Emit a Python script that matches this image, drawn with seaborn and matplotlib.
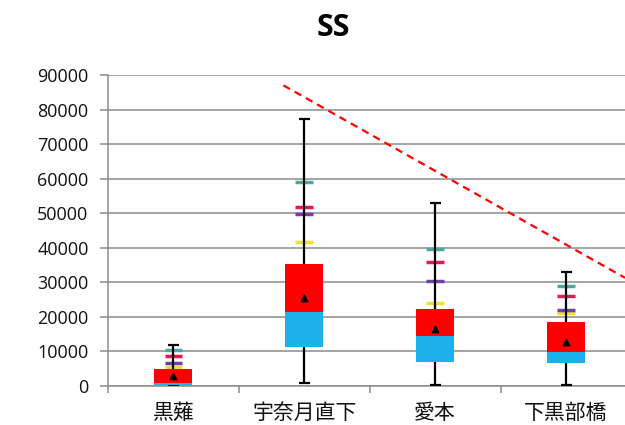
import numpy as np
import pandas as pd
import matplotlib
matplotlib.use("Agg")
import matplotlib.pyplot as plt
import seaborn as sns

# ---- data ----
categories = ["黒薙", "宇奈月直下", "愛本", "下黒部橋"]
min_vals = [0, 800, 400, 300]
q1_vals = [200, 11200, 6900, 6600]
median_vals = [800, 21300, 14600, 9900]
q3_vals = [5000, 35300, 22300, 18600]
max_vals = [11800, 77200, 52900, 33000]
mean_vals = [2800, 25600, 16500, 12800]
yellow_vals = [5600, 41800, 23900, 21000]
purple_vals = [6600, 49800, 30500, 21900]
crimson_vals = [8700, 51800, 35800, 26000]
teal_vals = [10400, 58900, 39700, 28900]
trend_x = [0.84, 3.45]
trend_y = [87000, 31300]
y_ticks = [0, 10000, 20000, 30000, 40000, 50000, 60000, 70000, 80000, 90000]

sns.set_theme(style="white")
plt.rcParams["font.family"] = ["Open Sans", "Noto Sans CJK JP", "DejaVu Sans"]

fig = plt.figure(figsize=(6.25, 4.25), dpi=100)
ax = fig.add_axes([108 / 625, 39 / 425, 517 / 625, 311 / 425])

df = pd.DataFrame({
    "cat": categories,
    "upper": np.array(q3_vals) - np.array(median_vals),
    "lower": np.array(median_vals) - np.array(q1_vals),
    "med": median_vals,
    "q1": q1_vals,
})

bw = 0.29
# lower box part (Q1 -> median), cyan
sns.barplot(data=df, x="cat", y="lower", bottom=df["q1"].to_numpy(), color="#1cb0ec",
            saturation=1, width=bw, linewidth=0, ax=ax, zorder=4)
# upper box part (median -> Q3), red
sns.barplot(data=df, x="cat", y="upper", bottom=df["med"].to_numpy(), color="#ff0000",
            saturation=1, width=bw, linewidth=0, ax=ax, zorder=4)

pos = np.arange(len(categories))

# whiskers
ax.vlines(pos, min_vals, max_vals, color="black", lw=1.6, zorder=3)
cw = 0.042
ax.hlines(max_vals, pos - cw, pos + cw, color="black", lw=1.6, zorder=3)
ax.hlines(min_vals, pos - cw, pos + cw, color="black", lw=1.6, zorder=3)

# percentile dashes
dw = 0.068
for vals, col in [(yellow_vals, "#ece030"), (purple_vals, "#7040a8"),
                  (crimson_vals, "#e8174f"), (teal_vals, "#4fa7a0")]:
    ax.hlines(vals, pos - dw, pos + dw, color=col, lw=2.5, zorder=2)

# mean markers
ax.scatter(pos, mean_vals, marker="^", color="black", s=22, zorder=6)

# trend line
ax.plot(trend_x, trend_y, color="#ff0000", lw=1.6, ls=(0, (3.4, 2.4)), zorder=5,
        clip_on=False)

ax.set_xlim(-0.5, 3.45)
ax.set_ylim(0, 90000)
ax.set_yticks(y_ticks)
ax.set_yticklabels([str(v) for v in y_ticks])
ax.set_xticks(pos)
ax.set_xticklabels(categories)
ax.set_xticks(np.arange(-0.5, 3.0, 1.0), minor=True)
ax.set_xlabel("")
ax.set_ylabel("")

ax.yaxis.grid(True, color="#8c8c8c", lw=1.1)
ax.set_axisbelow(True)
for s in ["top", "right"]:
    ax.spines[s].set_visible(False)
for s in ["left", "bottom"]:
    ax.spines[s].set_color("#8c8c8c")
    ax.spines[s].set_linewidth(1.1)

ax.tick_params(axis="y", which="major", length=6, width=1.1, color="#8c8c8c",
               labelsize=13, labelcolor="#111111", pad=8, left=True)
ax.tick_params(axis="x", which="major", length=0, labelsize=15,
               labelcolor="#111111", pad=12)
ax.tick_params(axis="x", which="minor", length=5, width=1.1, color="#8c8c8c",
               bottom=True)

fig.text(333 / 625, 1 - 28 / 425, "SS", ha="center", va="center",
         fontsize=22, fontweight="bold", color="black")

fig.savefig("out.png", dpi=100)
